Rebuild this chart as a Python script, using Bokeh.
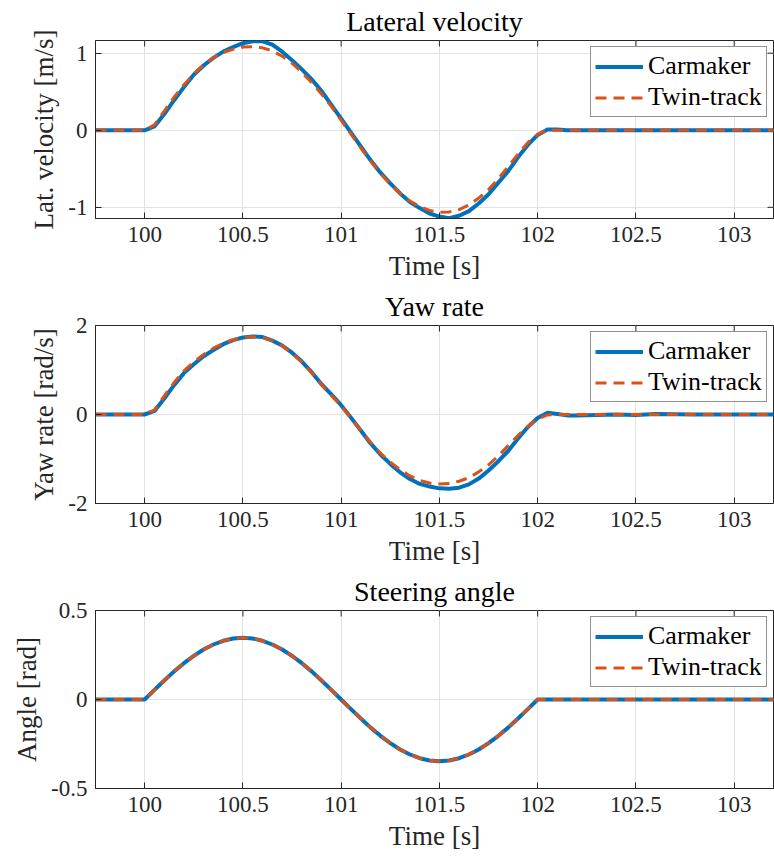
from bokeh.plotting import figure
from bokeh.models import Range1d, FixedTicker, Legend
from bokeh.layouts import column
from bokeh.embed import file_html
from bokeh.resources import INLINE

# ---------------- data ----------------
time_s = [99.75,
          100.00, 100.05, 100.10, 100.15, 100.20, 100.25, 100.30, 100.35, 100.40, 100.45,
          100.50, 100.55, 100.60, 100.65, 100.70, 100.75, 100.80, 100.85, 100.90, 100.95,
          101.00, 101.05, 101.10, 101.15, 101.20, 101.25, 101.30, 101.35, 101.40, 101.45,
          101.50, 101.55, 101.60, 101.65, 101.70, 101.75, 101.80, 101.85, 101.90, 101.95,
          102.00, 102.05, 102.10,
          102.15, 102.20, 102.30, 102.40, 102.50, 102.60, 102.80, 103.00, 103.25]

lat_carmaker = [0.0,
                0.00, 0.05, 0.21, 0.39, 0.56, 0.72, 0.84, 0.94, 1.02, 1.08,
                1.13, 1.155, 1.155, 1.11, 1.02, 0.91, 0.79, 0.66, 0.51, 0.33,
                0.15, -0.03, -0.21, -0.39, -0.55, -0.69, -0.82, -0.93, -1.01, -1.08,
                -1.12, -1.14, -1.11, -1.05, -0.95, -0.83, -0.68, -0.53, -0.35, -0.19,
                -0.06, 0.01, 0.01,
                0.0, 0.0, 0.0, 0.0, 0.0, 0.0, 0.0, 0.0, 0.0]

lat_twin = [0.0,
            0.00, 0.07, 0.25, 0.43, 0.59, 0.73, 0.85, 0.94, 1.01, 1.05,
            1.08, 1.085, 1.07, 1.03, 0.96, 0.87, 0.75, 0.62, 0.47, 0.31,
            0.13, -0.05, -0.23, -0.40, -0.56, -0.70, -0.82, -0.92, -0.99, -1.04,
            -1.065, -1.06, -1.03, -0.97, -0.88, -0.77, -0.63, -0.47, -0.31, -0.16,
            -0.05, 0.00, 0.00,
            0.0, 0.0, 0.0, 0.0, 0.0, 0.0, 0.0, 0.0, 0.0]

yaw_carmaker = [0.0,
                0.00, 0.08, 0.36, 0.66, 0.93, 1.13, 1.31, 1.45, 1.58, 1.67,
                1.73, 1.755, 1.74, 1.66, 1.55, 1.39, 1.19, 0.95, 0.68, 0.45,
                0.21, -0.07, -0.36, -0.65, -0.90, -1.11, -1.30, -1.45, -1.56, -1.62,
                -1.66, -1.67, -1.645, -1.57, -1.44, -1.26, -1.05, -0.82, -0.54, -0.28,
                -0.08, 0.04, 0.01,
                -0.02, -0.02, -0.01, 0.0, -0.01, 0.01, 0.0, 0.0, 0.0]

yaw_twin = [0.0,
            0.00, 0.10, 0.42, 0.72, 0.98, 1.18, 1.35, 1.49, 1.60, 1.68,
            1.73, 1.75, 1.73, 1.66, 1.54, 1.38, 1.18, 0.94, 0.67, 0.43,
            0.19, -0.08, -0.36, -0.63, -0.87, -1.07, -1.24, -1.38, -1.48, -1.54,
            -1.56, -1.55, -1.50, -1.42, -1.29, -1.13, -0.93, -0.70, -0.47, -0.27,
            -0.10, -0.01, 0.00,
            0.0, 0.0, 0.0, 0.0, 0.0, 0.0, 0.0, 0.0, 0.0]

steer_carmaker = [0.0,
                  0.000, 0.054, 0.107, 0.158, 0.204, 0.245, 0.281, 0.309, 0.330, 0.343,
                  0.347, 0.343, 0.330, 0.309, 0.281, 0.245, 0.204, 0.158, 0.107, 0.054,
                  0.000, -0.054, -0.107, -0.158, -0.204, -0.245, -0.281, -0.309, -0.330, -0.343,
                  -0.347, -0.343, -0.330, -0.309, -0.281, -0.245, -0.204, -0.158, -0.107, -0.054,
                  0.000, 0.000, 0.000,
                  0.0, 0.0, 0.0, 0.0, 0.0, 0.0, 0.0, 0.0, 0.0]

steer_twin = [0.0,
              0.000, 0.054, 0.107, 0.158, 0.204, 0.245, 0.281, 0.309, 0.330, 0.343,
              0.347, 0.343, 0.330, 0.309, 0.281, 0.245, 0.204, 0.158, 0.107, 0.054,
              0.000, -0.054, -0.107, -0.158, -0.204, -0.245, -0.281, -0.309, -0.330, -0.343,
              -0.347, -0.343, -0.330, -0.309, -0.281, -0.245, -0.204, -0.158, -0.107, -0.054,
              0.000, 0.000, 0.000,
              0.0, 0.0, 0.0, 0.0, 0.0, 0.0, 0.0, 0.0, 0.0]

x_ticks = [100, 100.5, 101, 101.5, 102, 102.5, 103]
x_tick_labels = ["100", "100.5", "101", "101.5", "102", "102.5", "103"]

series_names = ["Carmaker", "Twin-track"]
titles = ["Lateral velocity", "Yaw rate", "Steering angle"]
y_labels = ["Lat. velocity [m/s]", "Yaw rate [rad/s]", "Angle [rad]"]
x_label = "Time [s]"

x_limits = (99.75, 103.2)
y_limits = [(-1.145, 1.165), (-2, 2), (-0.5, 0.5)]
y_ticks = [[-1, 0, 1], [-2, 0, 2], [-0.5, 0, 0.5]]
y_tick_labels = [["-1", "0", "1"], ["-2", "0", "2"], ["-0.5", "0", "0.5"]]

# ---------------- styling ----------------
FONT = "Liberation Serif"
AX = "#262626"
BLUE = "#0072BD"
ORANGE = "#D95319"
GRID = "#e3e3e3"
FRAME_W = 678
FRAME_H = 178
TICK = 6


def make_panel(i, y1, y2):
    ymin, ymax = y_limits[i]
    p = figure(width=774, height=285, output_backend="svg", toolbar_location=None,
               x_range=Range1d(*x_limits), y_range=Range1d(ymin, ymax),
               min_border_left=95, min_border_right=1, min_border_top=40,
               min_border_bottom=67, title=titles[i],
               x_axis_label=x_label, y_axis_label=y_labels[i])
    p.background_fill_color = "white"
    p.border_fill_color = "white"
    p.outline_line_color = AX
    p.outline_line_width = 1

    p.title.align = "center"
    p.title.text_font = FONT
    p.title.text_font_size = "28px"
    p.title.text_font_style = "normal"
    p.title.text_color = "#000000"
    p.title.standoff = 7

    xa = p.xaxis[0]
    xa.ticker = FixedTicker(ticks=x_ticks)
    xa.major_label_overrides = {t: s for t, s in zip(x_ticks, x_tick_labels)}
    ya = p.yaxis[0]
    ya.ticker = FixedTicker(ticks=y_ticks[i])
    ya.major_label_overrides = {t: s for t, s in zip(y_ticks[i], y_tick_labels[i])}
    for ax in (xa, ya):
        ax.axis_line_color = AX
        ax.major_tick_line_color = AX
        ax.major_tick_in = TICK
        ax.major_tick_out = 0
        ax.minor_tick_line_color = None
        ax.major_label_text_font = FONT
        ax.major_label_text_font_size = "23px"
        ax.major_label_text_color = AX
        ax.axis_label_text_font = FONT
        ax.axis_label_text_font_size = "27px"
        ax.axis_label_text_font_style = "normal"
        ax.axis_label_text_color = AX
    xa.major_label_standoff = 8
    xa.axis_label_standoff = 6
    ya.major_label_standoff = 8
    ya.axis_label_standoff = 6

    p.xgrid.ticker = FixedTicker(ticks=x_ticks)
    p.ygrid.ticker = FixedTicker(ticks=y_ticks[i])
    p.xgrid.grid_line_color = GRID
    p.ygrid.grid_line_color = GRID

    # inward ticks on the top and right edges of the box (MATLAB "box on")
    dy = TICK * (ymax - ymin) / FRAME_H
    dx = TICK * (x_limits[1] - x_limits[0]) / FRAME_W
    n = len(x_ticks)
    p.segment(x0=x_ticks, y0=[ymax] * n, x1=x_ticks, y1=[ymax - dy] * n,
              line_color=AX, line_width=1)
    m = len(y_ticks[i])
    p.segment(x0=[x_limits[1]] * m, y0=y_ticks[i], x1=[x_limits[1] - dx] * m,
              y1=y_ticks[i], line_color=AX, line_width=1)

    r1 = p.line(time_s, y1, line_color=BLUE, line_width=4)
    r2 = p.line(time_s, y2, line_color=ORANGE, line_width=3, line_dash="11 7")

    leg = Legend(items=[(series_names[0], [r1]), (series_names[1], [r2])],
                 location=(495, 101))
    leg.label_text_font = FONT
    leg.label_text_font_size = "26px"
    leg.label_text_color = "#000000"
    leg.border_line_color = AX
    leg.border_line_width = 1
    leg.background_fill_color = "white"
    leg.background_fill_alpha = 1
    leg.padding = 4
    leg.spacing = 1
    leg.margin = 0
    leg.glyph_width = 48
    leg.glyph_height = 27
    leg.label_height = 27
    leg.label_standoff = 5
    p.add_layout(leg)
    return p


p1 = make_panel(0, lat_carmaker, lat_twin)
p2 = make_panel(1, yaw_carmaker, yaw_twin)
p3 = make_panel(2, steer_carmaker, steer_twin)

layout = column(p1, p2, p3, spacing=0)
open("out.html", "w").write(file_html(layout, INLINE))
